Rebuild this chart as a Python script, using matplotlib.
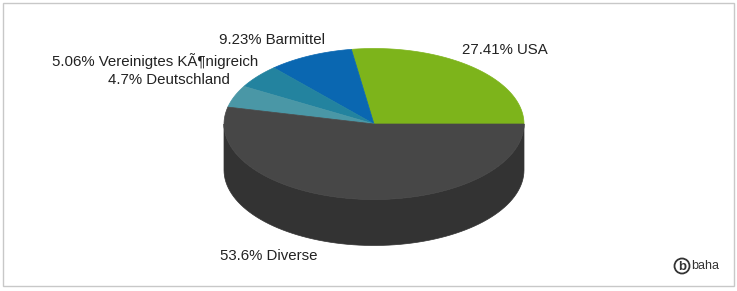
import numpy as np
import matplotlib.pyplot as plt
from matplotlib.patches import Polygon, Rectangle, Circle

plt.rcParams['font.family'] = ['Liberation Sans', 'DejaVu Sans']

# slice data, counterclockwise from 3 o'clock
labels = ['USA', 'Barmittel', 'Vereinigtes KÃ¶nigreich', 'Deutschland', 'Diverse']
shares = [27.41, 9.23, 5.06, 4.7, 53.6]
top_colors = ['#7db41b', '#0a67b1', '#23839f', '#4a97a6', '#474747']
side_colors = ['#5a8612', '#074b80', '#195f73', '#356d78', '#333333']

# label anchor points (pixels) and alignment
label_pos = [(462, 50, 'left'), (272, 40, 'center'), (258, 61, 'right'),
             (230, 80, 'right'), (220, 256, 'left')]

fig = plt.figure(figsize=(7.37, 2.91), dpi=100)
ax = fig.add_axes([0, 0, 1, 1])
ax.set_xlim(0, 737)
ax.set_ylim(291, 0)
ax.axis('off')

cx, cy = 374, 124
rx, ry = 150, 75.5
depth = 46

def arc(a0, a1, dy=0, n=80):
    t = np.radians(np.linspace(a0, a1, n))
    return np.column_stack([cx + rx * np.cos(t), cy + dy - ry * np.sin(t)])

angles = np.concatenate([[0], np.cumsum(shares) / sum(shares) * 360])

# side walls (only front half, 180..360 deg, is visible)
for i in range(len(shares)):
    a0, a1 = max(angles[i], 180), min(angles[i + 1], 360)
    if a1 <= a0:
        continue
    top = arc(a0, a1)
    bot = arc(a1, a0, dy=depth)
    ax.add_patch(Polygon(np.vstack([top, bot]), closed=True,
                         facecolor=side_colors[i], edgecolor=side_colors[i], lw=0.5))

# top faces
for i in range(len(shares)):
    pts = np.vstack([[cx, cy], arc(angles[i], angles[i + 1])])
    ax.add_patch(Polygon(pts, closed=True, facecolor=top_colors[i],
                         edgecolor=top_colors[i], lw=0.5))

for i, (x, y, ha) in enumerate(label_pos):
    txt = f"{shares[i]:g}% {labels[i]}"
    ax.text(x, y, txt, ha=ha, va='center', fontsize=10.8, color='#222222')

# frame
ax.add_patch(Rectangle((3.5, 2.5), 730.5, 283.5, fill=False, edgecolor='#c8c8c8', lw=1))

# logo
ax.add_patch(Circle((682, 266), 7.5, fill=False, edgecolor='#333333', lw=1.3))
ax.text(682, 266.5, 'b', ha='center', va='center', fontsize=9.5, fontweight='bold', color='#333333')
ax.text(691, 266, 'baha', ha='left', va='center', fontsize=9, color='#333333')

fig.savefig('out.png', dpi=100)
